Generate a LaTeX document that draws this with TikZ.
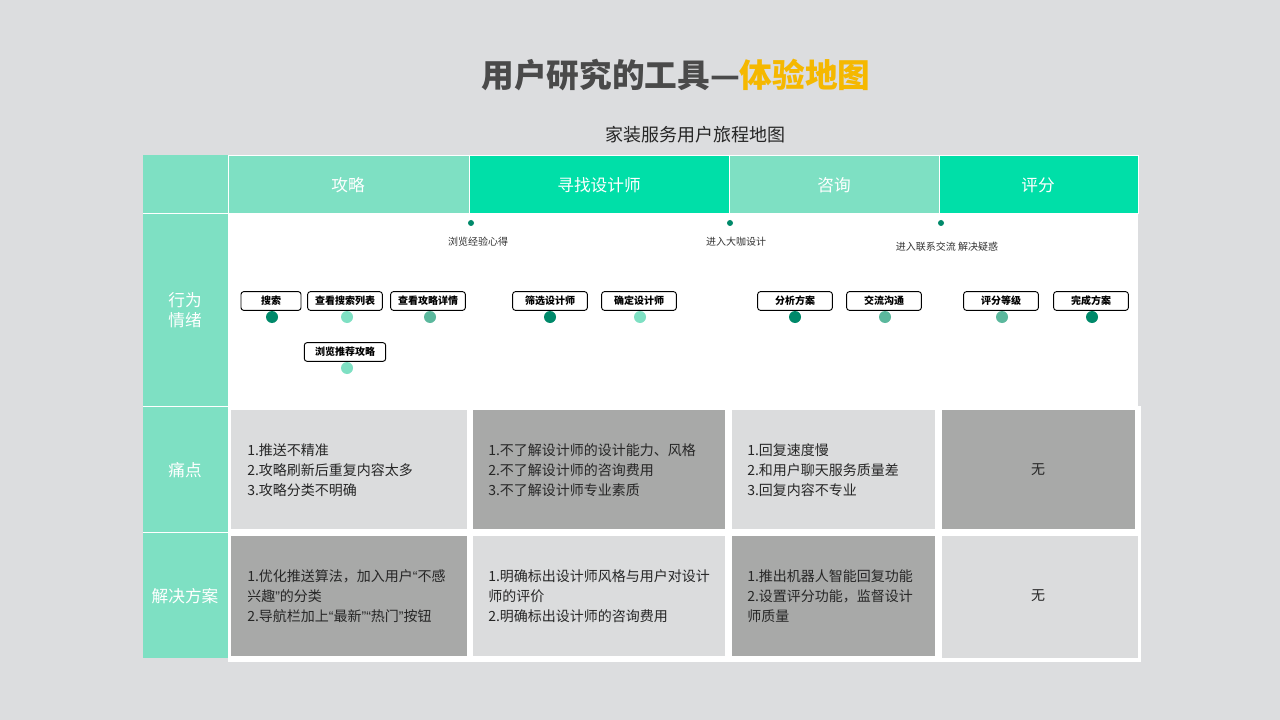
\documentclass[tikz,border=0pt]{standalone}
\usepackage{fontspec}
\setmainfont{Noto Sans CJK SC}
\newfontfamily\latq{Liberation Sans}
\newcommand{\ql}{{\latq “}}
\newcommand{\qr}{{\latq ”}}
\begin{document}
\begin{tikzpicture}[x=0.75pt,y=-0.75pt,
 lg/.style={fill=hl,draw=white,line width=0.6pt},
 bg/.style={fill=hb,draw=white,line width=0.6pt},
 act/.style={draw=black,rounded corners=2pt,line width=0.7pt,fill=white,minimum width=56pt,minimum height=14pt,inner sep=0pt,font=\fontsize{7.5}{9}\selectfont\bfseries},
 dotd/.style={circle,fill=dk,inner sep=0pt,minimum size=9pt},
 dotl/.style={circle,fill=hl,inner sep=0pt,minimum size=9pt},
 dotm/.style={circle,fill=md,inner sep=0pt,minimum size=9pt},
 sdot/.style={circle,fill=dk,inner sep=0pt,minimum size=4.5pt},
 note/.style={font=\fontsize{7.5}{9}\selectfont,text=black!80},
 cell/.style={align=left,anchor=west,inner xsep=0pt,font=\fontsize{10.5}{15}\selectfont,text=black!85},
 hd/.style={font=\fontsize{12.5}{15}\selectfont,text=white}]
\definecolor{bgc}{HTML}{DCDDDF}
\definecolor{hl}{HTML}{7EE0C3}
\definecolor{hb}{HTML}{00DFA8}
\definecolor{dk}{HTML}{00896A}
\definecolor{md}{HTML}{5BB89D}
\definecolor{cl}{HTML}{DBDCDD}
\definecolor{cd}{HTML}{A8A9A8}
\definecolor{tg}{HTML}{4A4A4A}
\definecolor{og}{HTML}{F5B800}
\fill[bgc] (0,0) rectangle (1280,720);
\useasboundingbox (0,0) rectangle (1280,720);
\node (title) at (676,75) {\fontsize{24.5}{28}\selectfont\bfseries\textcolor{tg}{用户研究的工具—}\textcolor{og}{体验地图}};
\node[text=black!85] (sub) at (695,135) {\fontsize{13.5}{16}\selectfont 家装服务用户旅程地图};
% left column & header
\fill[hl] (143,155) rectangle (228,658);
\draw[white,line width=0.6pt] (143,213)--(228,213) (143,406)--(228,406) (143,532)--(228,532) (228,155)--(228,658);
\path[lg] (228,155) rectangle (469,213);
\path[bg] (469,155) rectangle (729,213);
\path[lg] (729,155) rectangle (939,213);
\path[bg] (939,155) rectangle (1138,213);
\node[hd] (h1) at (348,185) {攻略};
\node[hd] (h2) at (599,185) {寻找设计师};
\node[hd] (h3) at (834,185) {咨询};
\node[hd] (h4) at (1038,185) {评分};
\node[hd,align=center] (r1) at (185,310) {行为\\情绪};
\node[hd] (r2) at (185,470) {痛点};
\node[hd] (r3) at (185,596) {解决方案};
% behaviour area
\fill[white] (228,213) rectangle (1138,406);
\fill[white] (228,406) rectangle (1141,662);
% cells
\fill[cl] (231,410) rectangle (467,529);
\fill[cd] (473,410) rectangle (725,529);
\fill[cl] (732,410) rectangle (935,529);
\fill[cd] (942,410) rectangle (1135,529);
\fill[cd] (231,536) rectangle (467,656);
\fill[cl] (473,536) rectangle (725,656);
\fill[cd] (732,536) rectangle (935,656);
\fill[cl] (942,536) rectangle (1138,658);
\node[cell] (p1) at (247,470) {1.推送不精准\\2.攻略刷新后重复内容太多\\3.攻略分类不明确};
\node[cell] (p2) at (488,470) {1.不了解设计师的设计能力、风格\\2.不了解设计师的咨询费用\\3.不了解设计师专业素质};
\node[cell] (p3) at (747,470) {1.回复速度慢\\2.和用户聊天服务质量差\\3.回复内容不专业};
\node[cell,anchor=center] (p4) at (1038,470) {无};
\node[cell] (s1) at (247,596) {1.优化推送算法，加入用户\ql 不感\\兴趣\qr 的分类\\2.导航栏加上\ql 最新\qr\ql 热门\qr 按钮};
\node[cell] (s2) at (488,596) {1.明确标出设计师风格与用户对设计\\师的评价\\2.明确标出设计师的咨询费用};
\node[cell] (s3) at (747,596) {1.推出机器人智能回复功能\\2.设置评分功能，监督设计\\师质量};
\node[cell,anchor=center] (s4) at (1038,596) {无};
% top dots
\node[sdot] (t1) at (471,223) {};
\node[sdot] (t2) at (730,223) {};
\node[sdot] (t3) at (941,223) {};
\node[note] (n1) at (478,242) {浏览经验心得};
\node[note] (n2) at (736,242) {进入大咖设计};
\node[note] (n3) at (947,247) {进入联系交流 解决疑惑};
% actions
\node[act,minimum width=45pt] (a1) at (271,301) {搜索};
\node[act] (a2) at (345,301) {查看搜索列表};
\node[act] (a3) at (428,301) {查看攻略详情};
\node[act,minimum width=61pt] (a4) at (345,352) {浏览推荐攻略};
\node[act] (a5) at (550,301) {筛选设计师};
\node[act] (a6) at (639,301) {确定设计师};
\node[act] (a7) at (795,301) {分析方案};
\node[act] (a8) at (884,301) {交流沟通};
\node[act] (a9) at (1001,301) {评分等级};
\node[act] (a10) at (1091,301) {完成方案};
\node[dotd] (d1) at (272,317) {};
\node[dotl] (d2) at (347,317) {};
\node[dotm] (d3) at (430,317) {};
\node[dotl] (d4) at (347,368) {};
\node[dotd] (d5) at (550,317) {};
\node[dotl] (d6) at (640,317) {};
\node[dotd] (d7) at (795,317) {};
\node[dotm] (d8) at (885,317) {};
\node[dotm] (d9) at (1002,317) {};
\node[dotd] (d10) at (1092,317) {};
\end{tikzpicture}
\end{document}
